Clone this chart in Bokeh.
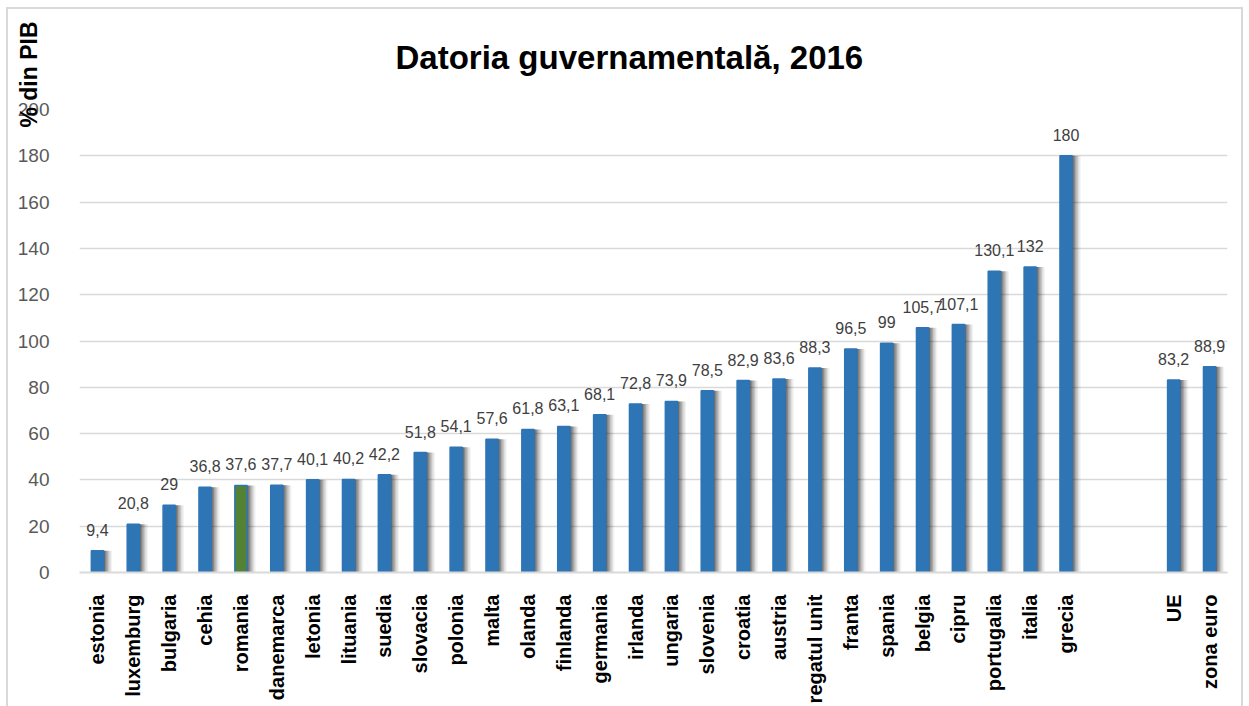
import math
from bokeh.plotting import figure
from bokeh.models import ColumnDataSource, FactorRange, Range1d, LabelSet, Title
from bokeh.core.properties import value
from bokeh.transform import dodge
from bokeh.embed import file_html
from bokeh.resources import INLINE

countries = ["estonia", "luxemburg", "bulgaria", "cehia", "romania", "danemarca", "letonia",
             "lituania", "suedia", "slovacia", "polonia", "malta", "olanda", "finlanda",
             "germania", "irlanda", "ungaria", "slovenia", "croatia", "austria", "regatul unit",
             "franta", "spania", "belgia", "cipru", "portugalia", "italia", "grecia"]
country_values = [9.4, 20.8, 29, 36.8, 37.6, 37.7, 40.1, 40.2, 42.2, 51.8, 54.1, 57.6, 61.8, 63.1,
                  68.1, 72.8, 73.9, 78.5, 82.9, 83.6, 88.3, 96.5, 99, 105.7, 107.1, 130.1, 132, 180]
aggregates = ["UE", "zona euro"]
aggregate_values = [83.2, 88.9]
gap = [" ", "  "]
highlight = "romania"

title_text = "Datoria guvernamentală, 2016"
y_title = "% din PIB"

BLUE = "#2E75B6"
GREEN = "#548235"

names = countries + aggregates
vals = country_values + aggregate_values
labels = [("%g" % v).replace(".", ",") for v in vals]
fills = [GREEN if n == highlight else BLUE for n in names]
src = ColumnDataSource(dict(x=names, top=vals, label=labels, fill=fills))

factors = countries + gap + aggregates

p = figure(x_range=FactorRange(*factors, range_padding=0), y_range=Range1d(0, 200),
           width=1237, height=699, output_backend="svg", toolbar_location=None,
           min_border_left=73, min_border_right=16, min_border_top=102, min_border_bottom=134)
p.styles = {"margin-left": "6px", "margin-top": "7px",
            "box-shadow": "inset 2px 2px 0 #d9d9d9, inset -2px 0 0 #d9d9d9"}
p.border_fill_alpha = 0
p.background_fill_color = "white"
p.outline_line_color = None

p.title.text = title_text
p.title.align = "left"
p.title.offset = 316
p.title.standoff = 59
p.title.text_font = "Liberation Sans"
p.title.text_font_style = "bold"
p.title.text_font_size = "33px"
p.title.text_color = "#000000"

# small empty spacer between the title and the plot area
p.add_layout(Title(text=" ", text_font_size="2px", standoff=0), "above")

# soft shadows to the right of the bars
for off, a in [(0.04, 0.22), (0.08, 0.18), (0.12, 0.15), (0.16, 0.11), (0.20, 0.08), (0.24, 0.05)]:
    p.vbar(x=dodge("x", off, range=p.x_range), top="top", bottom=0, width=0.34, source=src,
           fill_color="#000000", fill_alpha=a, line_color=None)

p.vbar(x="x", top="top", bottom=0, width=0.34, source=src, fill_color="fill",
       line_color=BLUE, line_width=1.5)

p.add_layout(LabelSet(x="x", y="top", text="label", source=src, text_align="center",
                      text_baseline="bottom", y_offset=15, text_font=value("Liberation Sans"),
                      text_font_size="16px", text_color="#404040"))

p.xgrid.grid_line_color = None
p.ygrid.grid_line_color = "#d9d9d9"
p.ygrid.grid_line_width = 1.5
p.yaxis.ticker = list(range(0, 201, 20))
p.yaxis.axis_line_color = None
p.yaxis.major_tick_line_color = None
p.yaxis.minor_tick_line_color = None
p.yaxis.major_label_text_font = "Liberation Sans"
p.yaxis.major_label_text_font_size = "19px"
p.yaxis.major_label_text_color = "#595959"
p.yaxis.major_label_standoff = 24

p.xaxis.axis_line_color = "#d9d9d9"
p.xaxis.axis_line_width = 2
p.xaxis.major_tick_line_color = None
p.xaxis.minor_tick_line_color = None
p.xaxis.major_label_orientation = math.pi / 2
p.xaxis.major_label_text_font = "Liberation Sans"
p.xaxis.major_label_text_font_style = "bold"
p.xaxis.major_label_text_font_size = "20px"
p.xaxis.major_label_text_color = "#000000"
p.xaxis.major_label_standoff = 16

ytitle = Title(text=y_title, align="right", offset=-88, standoff=-55,
               text_font="Liberation Sans", text_font_style="bold",
               text_font_size="23px", text_color="#000000")
p.add_layout(ytitle, "left")

open("out.html", "w").write(file_html(p, INLINE))
